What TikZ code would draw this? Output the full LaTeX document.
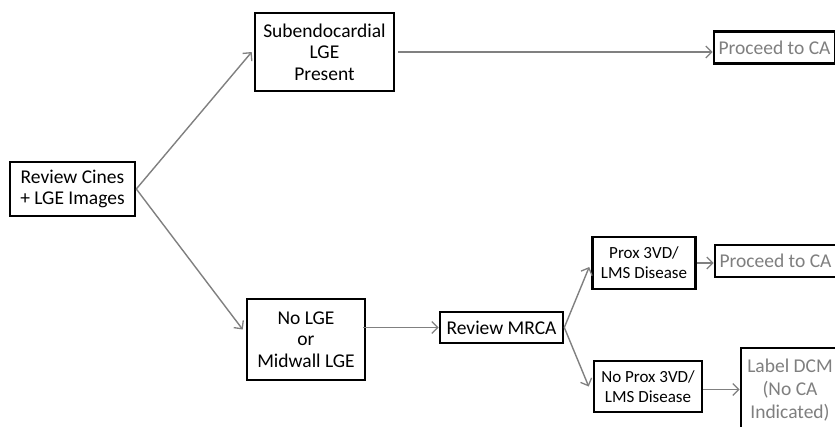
\documentclass[tikz,border=0pt]{standalone}
\usepackage{fontspec}
\setmainfont{Carlito}
\usetikzlibrary{arrows.meta,calc}
\definecolor{linegray}{HTML}{808080}
\definecolor{textgray}{HTML}{7F7F7F}
\tikzset{
  box/.style={draw=black, line width=2.6pt, align=center, inner sep=0pt,
              font=\fontsize{19.5}{21.5}\selectfont},
  smallbox/.style={box, font=\fontsize{17}{20}\selectfont},
  endbox/.style={box, text=textgray},
  conn/.style={draw=linegray, line width=1.4pt,
               -{Straight Barb[length=6pt,width=12pt,line width=1.3pt]}}
}
\begin{document}
\begin{tikzpicture}[x=1pt,y=-1pt]
\useasboundingbox (0,0) rectangle (835,426);
\clip (0,0) rectangle (835,426);
\fill[white] (0,0) rectangle (835,426);
\node[box, minimum width=125pt, minimum height=54pt] (cines) at (72.5,189) {Review Cines\\+ LGE Images};
\node[box, minimum width=139pt, minimum height=78pt] (sub) at (324.5,52) {Subendocardial\\LGE\\Present};
\node[endbox, minimum width=121pt, minimum height=31.5pt] (pro1) at (774.5,47.5) {Proceed to CA};
\node[box, minimum width=118pt, minimum height=81pt] (nolge) at (306,339.5) {No LGE\\or\\Midwall LGE};
\node[box, minimum width=123pt, minimum height=31pt] (mrca) at (501.5,327.5) {Review MRCA};
\node[smallbox, minimum width=103pt, minimum height=52pt] (prox) at (644,263) {Prox 3VD/\\LMS Disease};
\node[endbox, minimum width=121pt, minimum height=32pt] (pro2) at (775.5,261) {Proceed to CA};
\node[smallbox, minimum width=108pt, minimum height=51pt] (noprox) at (648,386.5) {No Prox 3VD/\\LMS Disease};
\node[endbox, minimum width=98pt, minimum height=84pt, font=\fontsize{19.5}{23}\selectfont] (dcm) at (790,390) {Label DCM\\(No CA\\Indicated)};

\draw[conn] (cines.east) -- ([xshift=-2pt]sub.west);
\draw[conn] (cines.east) -- ([xshift=-3pt,yshift=10pt]nolge.west);
\draw[conn] ([xshift=3pt]sub.east) -- (sub.east -| pro1.west);
\draw[conn] ([xshift=-3pt]nolge.east |- mrca.west) -- (mrca.west);
\draw[conn] (mrca.east) -- ([xshift=-2pt,yshift=-4pt]prox.west);
\draw[conn] (mrca.east) -- ([xshift=-4pt]noprox.west);
\draw[conn] (prox.east) -- (prox.east -| pro2.west);
\draw[conn] ([yshift=-3pt]noprox.east) -- ([yshift=-3pt]noprox.east -| dcm.west);
\end{tikzpicture}
\end{document}
